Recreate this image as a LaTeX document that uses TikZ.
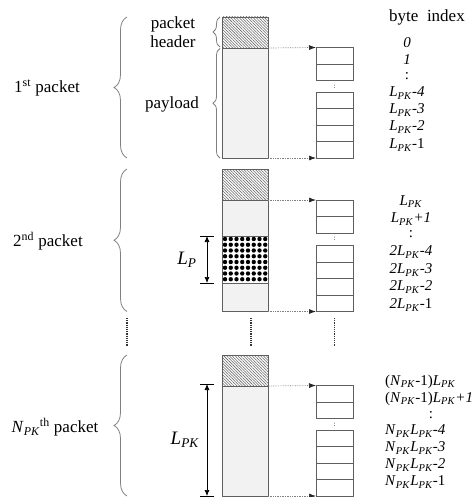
\documentclass[tikz,border=0pt]{standalone}
\usepackage{fontspec}
\setmainfont{Liberation Serif}
\usepackage{xcolor}
\usepackage{tikz}
\usetikzlibrary{arrows.meta, positioning, decorations.pathreplacing, patterns.meta}
\definecolor{colgray}{HTML}{5F5F5F}
\definecolor{payfill}{HTML}{F2F2F2}
\newcommand{\LPK}{\textit{L}\textsubscript{\textit{PK}}}
\newcommand{\NPK}{\textit{N}\textsubscript{\textit{PK}}}
\tikzset{
	colline/.style={draw=colgray, line width=0.9pt},
	boxline/.style={draw=colgray, line width=0.8pt},
	hdr/.style={pattern={Lines[angle=-45,distance=2pt,line width=0.55pt]}, pattern color=gray!80!black},
	ptr/.style={densely dotted, gray, line width=0.7pt, -{Latex[length=7pt,width=5pt,black!85]}},
	brc/.style={decorate, decoration={brace, amplitude=#1}, draw=gray, line width=0.8pt},
	lbl/.style={font=\fontsize{17}{19}\selectfont, align=center},
	idx/.style={font=\fontsize{15}{17}\selectfont, inner sep=0pt},
	cont/.style={densely dotted, line width=1.2pt, black!80},
	dimline/.style={{Latex[length=6pt,width=5pt]}-{Latex[length=6pt,width=5pt]}, line width=0.7pt},
}
\newcommand{\pktCol}[3]{%
	\fill[white] (222,#2) rectangle (268,{#2+31});
	\fill[hdr] (222,#2) rectangle (268,{#2+31});
	\fill[payfill] (222,{#2+31}) rectangle (268,#3);
	\draw[colline] (222,#2) rectangle (268,#3);
	\draw[colline] (222,{#2+31}) -- (268,{#2+31});
	\coordinate (#1h) at (268,{#2+31});
	\coordinate (#1e) at (268,#3);}
\newcommand{\byteBoxes}[3]{%
	\foreach \k in {0,1}
		\draw[boxline] (316,{#2+\k*16.5}) rectangle (353,{#2+(\k+1)*16.5});
	\foreach \k in {1,...,4}
		\draw[boxline] (316,{#3-\k*16.5}) rectangle (353,{#3-(\k-1)*16.5});
	\node[font=\scriptsize, inner sep=0pt] (#1dots) at (334.5,{#2+39}) {:};
	\coordinate (#1a) at (316,#2);
	\coordinate (#1b) at (316,#3);}

\begin{document}
\begin{tikzpicture}[x=1pt, y=-1pt]
	\useasboundingbox (0,0) rectangle (475,497);
	\pktCol{p1}{17}{158}
	\pktCol{p2}{169}{311.5}
	\pktCol{p3}{355}{496}
	\begin{scope}
		\clip (222,236) rectangle (268,283);
		\fill[white] (222,236) rectangle (268,283);
		\foreach \i in {0,...,7}
			\foreach \j in {0,...,7}
				\fill (225+\i*5.75,239+\j*5.75) circle (2.2);
	\end{scope}
	\draw[colline] (222,169) rectangle (268,311.5);
	\draw[colline] (222,236) -- (268,236); \draw[colline] (222,283) -- (268,283);
	\byteBoxes{b1}{47.5}{158}
	\byteBoxes{b2}{200}{311.5}
	\byteBoxes{b3}{385.5}{496}
	\draw[ptr] (p1h) -- (b1a); \draw[ptr] (p1e) -- (b1b);
	\draw[ptr] (p2h) -- (b2a); \draw[ptr] (p2e) -- (b2b);
	\draw[ptr] (p3h) -- (b3a); \draw[ptr] (p3e) -- (b3b);
	\draw[brc=13pt] (127,158) -- (127,17);
	\draw[brc=13pt] (127,311.5) -- (127,169);
	\draw[brc=13pt] (127,496) -- (127,355);
	\draw[brc=7pt] (220,47) -- (220,17);
	\draw[brc=7pt] (220,158) -- (220,48.5);
	\node[lbl] (pk1) at (47,88) {1\textsuperscript{st} packet};
	\node[lbl] (pk2) at (48,241) {2\textsuperscript{nd} packet};
	\node[lbl] (pk3) at (55,427) {\NPK\textsuperscript{th} packet};
	\node[lbl] (hdrtxt) at (173,32) {packet\\header};
	\node[lbl] (paytxt) at (172,104) {payload};
	\node[lbl] (bidx) at (427,17) {byte\ \ index};
	\coordinate (lpt) at (207,236); \coordinate (lpb) at (207,283);
	\draw[dimline] (lpt) -- (lpb);
	\draw[line width=0.7pt] (200,236) -- (214,236); \draw[line width=0.7pt] (200,283) -- (214,283);
	\node[font=\fontsize{19}{21}\selectfont] (lp) at (187,260) {\textit{L}\textsubscript{\textit{P}}};
	\coordinate (lkt) at (207,384); \coordinate (lkb) at (207,496);
	\draw[dimline] (lkt) -- (lkb);
	\draw[line width=0.7pt] (200,384) -- (214,384); \draw[line width=0.7pt] (200,496) -- (214,496);
	\node[font=\fontsize{19}{21}\selectfont] (lpk) at (185,440) {\LPK};
	\foreach \yy/\txt [count=\n] in {43/\textit{0}, 60/\textit{1}, 76/{:}, 93/{\LPK\textit{-4}},
		110/{\LPK\textit{-3}}, 127/{\LPK\textit{-2}}, 145/{\LPK-1}}
		\node[idx] (ia\n) at (407,\yy) {\txt};
	\foreach \yy/\txt [count=\n] in {202/{\LPK}, 219/{\LPK\textit{+1}}, 234/{:}, 252/{\textit{2}\LPK\textit{-4}},
		270/{\textit{2}\LPK\textit{-3}}, 287/{\textit{2}\LPK\textit{-2}}, 305/{\textit{2}\LPK-1}}
		\node[idx] (ib\n) at (411,\yy) {\txt};
	\foreach \yy/\txt [count=\n] in {382/{(\NPK-1)\LPK}, 399/{(\NPK-1)\LPK\textit{+1}},
		431/{\NPK\LPK\textit{-4}}, 448/{\NPK\LPK\textit{-3}}, 465/{\NPK\LPK\textit{-2}}, 482/{\NPK\LPK-1}}
		\node[idx, anchor=west] (ic\n) at (385,\yy) {\txt};
	\node[idx] (icdots) at (431,415) {:};
	\draw[cont] (127,318) -- (127,346);
	\draw[cont] (251,318) -- (251,346);
	\draw[cont] (334.5,318) -- (334.5,346);
\end{tikzpicture}
\end{document}
